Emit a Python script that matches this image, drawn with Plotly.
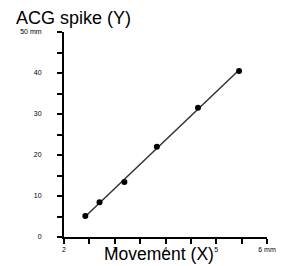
import numpy as np
import plotly.graph_objects as go

movement_x = [2.42, 2.70, 3.19, 3.83, 4.64, 5.45]
acg_spike_y = [5.1, 8.5, 13.4, 22.0, 31.5, 40.5]

x_tick_vals = [2, 3, 4, 5, 6]
x_tick_text = ["2", "3", "4", "5", "6 mm"]
y_tick_vals = [0, 10, 20, 30, 40, 50]
y_tick_text = ["0", "10", "20", "30", "40", "50 mm"]

slope, intercept = np.polyfit(movement_x, acg_spike_y, 1)
fit_x = [min(movement_x), max(movement_x)]
fit_y = [slope * v + intercept for v in fit_x]

fig = go.Figure()
fig.add_trace(go.Scatter(x=fit_x, y=fit_y, mode="lines",
                         line=dict(color="#333333", width=1.5), hoverinfo="skip"))
fig.add_trace(go.Scatter(x=movement_x, y=acg_spike_y, mode="markers",
                         marker=dict(color="black", size=6)))

# the page body keeps its default 8px margin, so the margins are shifted to compensate
fig.update_layout(
    width=284, height=266,
    margin=dict(l=48, r=25, t=24, b=37),
    plot_bgcolor="white", paper_bgcolor="white",
    showlegend=False,
    font=dict(family="Liberation Sans, Arial, sans-serif", color="black"),
)
fig.update_xaxes(
    range=[2, 6], showgrid=False, zeroline=False,
    showline=True, linecolor="black", linewidth=2,
    tickmode="array", tickvals=x_tick_vals, ticktext=x_tick_text,
    ticks="outside", ticklen=5, tickwidth=1.5, tickcolor="black",
    tickfont=dict(size=7, color="black"),
    minor=dict(dtick=0.5, ticks="outside", ticklen=5, tickwidth=1.5, tickcolor="black"),
)
fig.update_yaxes(
    range=[0, 50], showgrid=False, zeroline=False,
    showline=True, linecolor="black", linewidth=2,
    tickmode="array", tickvals=y_tick_vals, ticktext=y_tick_text,
    ticks="outside", ticklen=5, tickwidth=1.5, tickcolor="black",
    tickfont=dict(size=7, color="black"), ticklabelstandoff=14,
    minor=dict(dtick=5, ticks="outside", ticklen=5, tickwidth=1.5, tickcolor="black"),
)
fig.add_annotation(text="ACG spike (Y)", xref="paper", yref="paper",
                   x=-0.245, y=1.0, yshift=2, xanchor="left", yanchor="bottom",
                   showarrow=False, font=dict(size=18))
fig.add_annotation(text="Movement (X)", xref="paper", yref="paper",
                   x=0.47, y=0, yshift=-29, xanchor="center", yanchor="bottom",
                   showarrow=False, font=dict(size=17.5))

fig.write_html("out.html", config={"displayModeBar": False})
